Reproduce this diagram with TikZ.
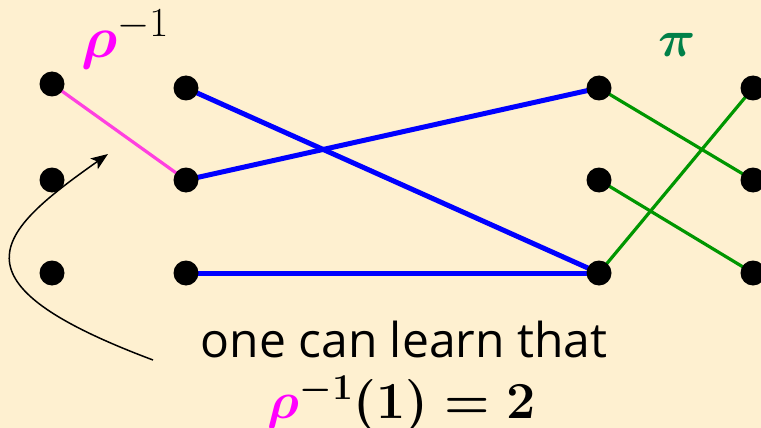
\documentclass[tikz,border=0pt]{standalone}
\usepackage{fix-cm}
\usepackage{amsmath,bm}
\usepackage[no-math]{fontspec}
\setmainfont{Open Sans}
\usetikzlibrary{arrows.meta}
\definecolor{paper}{HTML}{FEF0D0}
\definecolor{rhoc}{HTML}{FF00FF}
\definecolor{rholine}{HTML}{FF40E0}
\definecolor{pic}{HTML}{008048}
\definecolor{piline}{HTML}{009600}
\begin{document}
\begin{tikzpicture}[x=1pt, y=-1pt, dot/.style={circle, fill=black, inner sep=0pt, minimum size=25pt}, big/.style={font=\fontsize{59}{66}\selectfont}, txt/.style={font=\fontsize{48}{56}\selectfont, anchor=base}, bold/.style={font=\fontsize{52}{60}\selectfont\boldmath, anchor=base}, rl/.style={rholine, line width=3.2pt}, bl/.style={blue, line width=5pt}, gl/.style={piline, line width=3.2pt}, arr/.style={-{Stealth[length=17pt, width=13pt, inset=4pt]}, line width=1.5pt}]
\fill[paper] (0,0) rectangle (761,428);
\useasboundingbox (0,0) rectangle (761,428);
\coordinate (a1) at (52,84); \coordinate (a2) at (52,180); \coordinate (a3) at (52,273);
\coordinate (b1) at (186,88); \coordinate (b2) at (186,180); \coordinate (b3) at (186,273);
\coordinate (c1) at (599,88); \coordinate (c2) at (599,180); \coordinate (c3) at (599,273);
\coordinate (d1) at (753,88); \coordinate (d2) at (753,180); \coordinate (d3) at (753,273);
\draw[rl] (a1)--(b2);
\draw[bl] (b1)--(c3); \draw[bl] (b2)--(c1); \draw[bl] (b3)--(c3);
\draw[gl] (c1)--(d2); \draw[gl] (c2)--(d3); \draw[gl] (c3)--(d1);
\foreach \p in {a1,a2,a3,b1,b2,b3,c1,c2,c3,d1,d2,d3} \node[dot] at (\p) {};
\node[big, anchor=base] (rholab) at (125,58) {$\textcolor{rhoc}{\bm{\rho}}^{-1}$};
\node[font=\fontsize{52}{60}\selectfont, anchor=base, text=pic] (pilab) at (677,57) {$\bm{\pi}$};
\node[txt] (learn) at (404,357) {one can learn that};
\node[bold] (fact) at (402,418) {$\textcolor{rhoc}{\rho}^{-1}(1)=2$};
\coordinate (tail) at (153,360); \coordinate (tip) at (108,154);
\draw[arr] (tail) .. controls (-55,282) and (-4,233) .. (tip);
\end{tikzpicture}
\end{document}
